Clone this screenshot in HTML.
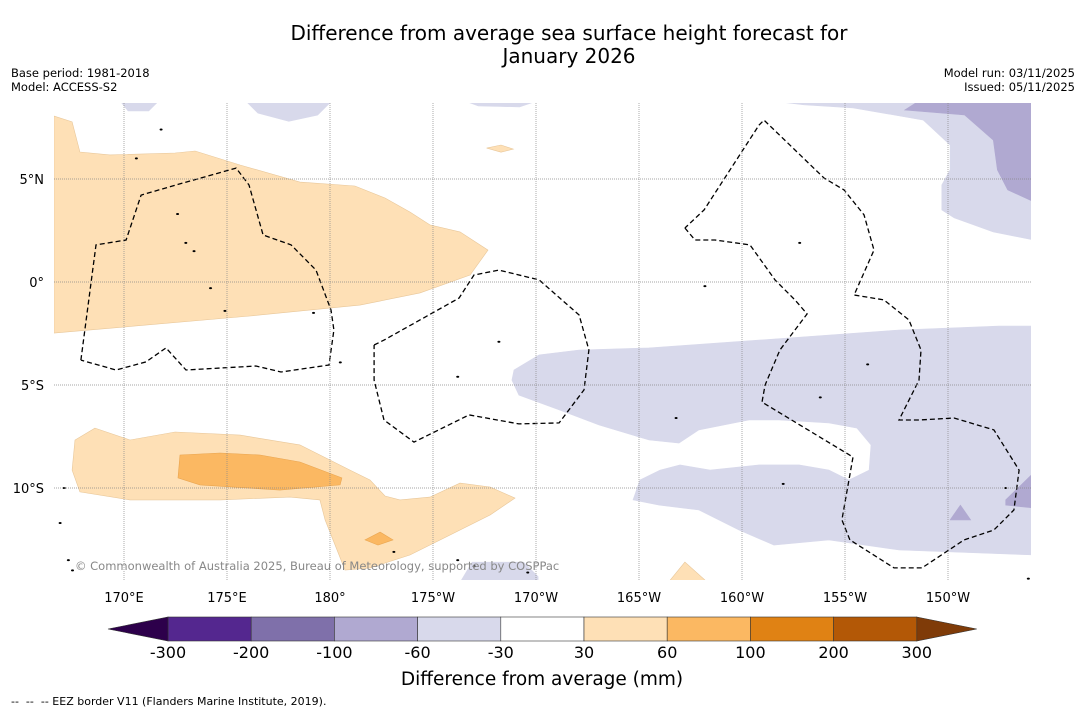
<!DOCTYPE html>
<html><head><meta charset="utf-8"><style>
body{margin:0;background:#fff;font-family:"Liberation Sans","DejaVu Sans",sans-serif}
#wrap{position:relative;width:1085px;height:713px;overflow:hidden}
.t{position:absolute;white-space:nowrap}
</style></head><body>
<div id="wrap">
<div class="t" style="left:0;width:1138px;text-align:center;top:22px;font-size:20px;line-height:23px;font-family:'DejaVu Sans',sans-serif">Difference from average sea surface height forecast for<br>January 2026</div>
<div class="t" style="left:11px;top:66px;font-size:11.5px;line-height:14px;font-family:'DejaVu Sans',sans-serif">Base period: 1981-2018<br>Model: ACCESS-S2</div>
<div class="t" style="right:10px;top:66px;font-size:11.5px;line-height:14px;text-align:right;font-family:'DejaVu Sans',sans-serif">Model run: 03/11/2025<br>Issued: 05/11/2025</div>
<svg id="map" width="1085" height="713" style="position:absolute;left:0;top:0"></svg>
<div class="t" style="left:11px;top:695px;font-size:11px;font-family:'DejaVu Sans',sans-serif">--&nbsp; --&nbsp; -- EEZ border V11 (Flanders Marine Institute, 2019).</div>
</div>
<script>
const lonTicks=[170,175,180,185,190,195,200,205,210];
const lonLabels=["170°E","175°E","180°","175°W","170°W","165°W","160°W","155°W","150°W"];
const latTicks=[5,0,-5,-10];
const latLabels=["5°N","0°","5°S","10°S"];
const cbLevels=["-300","-200","-100","-60","-30","30","60","100","200","300"];
const cbColors=["#54278f","#7f70aa","#b0a9d1","#d8d9eb","#ffffff","#fee0b6","#fbb862","#e08214","#b35806"];
const lightOrange=[
[[166.6,8.06],[167.48,7.77],[167.86,6.31],[169.32,6.17],[172.48,6.26],[173.45,6.36],[175.63,5.68],[178.54,4.85],[181.21,4.66],[182.67,4.08],[183.88,3.4],[184.85,2.77],[186.31,2.43],[187.67,1.55],[186.8,0.34],[184.37,-0.53],[181.46,-1.12],[176.12,-1.65],[166.6,-2.48]],
[[168.59,-7.09],[170.29,-7.67],[172.48,-7.28],[175.63,-7.43],[178.54,-7.91],[180.97,-9.13],[181.94,-9.61],[182.67,-10.39],[183.4,-10.58],[184.85,-10.44],[186.31,-9.76],[187.77,-9.95],[188.98,-10.49],[187.77,-11.31],[185.83,-12.28],[183.88,-13.25],[181.94,-13.88],[180.73,-13.98],[179.76,-11.55],[179.51,-10.58],[178.06,-10.44],[174.66,-10.58],[170.29,-10.58],[167.86,-10.19],[167.48,-9.13],[167.62,-7.67]],
[[187.6,6.5],[188.3,6.65],[188.9,6.45],[188.3,6.3]],
[[196.41,-14.6],[197.23,-13.59],[198.35,-14.6]]
];
const midOrange=[
[[172.72,-8.4],[174.66,-8.3],[176.6,-8.4],[178.54,-8.74],[180.58,-9.51],[180.49,-9.85],[177.57,-10.1],[173.69,-9.85],[172.62,-9.51]],
[[181.7,-12.52],[182.43,-12.14],[183.06,-12.52],[182.33,-12.77]]
];
const lightPurple=[
[[169.8,8.8],[171.7,8.8],[171.2,8.3],[170.2,8.3]],
[[175.9,8.8],[180.1,8.8],[179.4,8.1],[178.0,7.8],[176.5,8.2]],
[[186.5,8.8],[190.1,8.8],[189.2,8.5],[187.2,8.55]],
[[201.3,8.8],[214.2,8.8],[214.2,2.03],[212.2,2.43],[210.3,3.11],[209.7,3.5],[209.7,4.71],[210.1,5.44],[210.1,6.65],[208.8,7.86],[205.4,8.45],[203.0,8.6]],
[[188.93,-4.27],[190.15,-3.54],[192.09,-3.3],[195.49,-3.2],[200.83,-2.82],[207.62,-2.33],[212.48,-2.14],[214.2,-2.14],[214.2,-13.25],[207.62,-13.01],[204.22,-12.52],[201.55,-12.77],[199.85,-12.04],[197.91,-11.07],[195.97,-10.83],[194.71,-10.58],[195.05,-9.61],[196.02,-9.13],[196.99,-8.88],[198.45,-9.13],[200.83,-8.88],[202.77,-8.88],[204.22,-9.13],[205.19,-9.61],[206.17,-9.13],[206.26,-7.91],[205.58,-7.09],[204.22,-6.84],[201.8,-6.7],[200.34,-6.7],[197.91,-7.18],[196.94,-7.82],[195.49,-7.67],[193.06,-6.94],[191.12,-6.21],[189.17,-5.49],[188.83,-4.76]],
[[186.3,-14.6],[186.9,-13.6],[189.4,-13.6],[190.1,-14.3],[190.1,-14.6]]
];
const midPurple=[
[[208.6,8.8],[214.2,8.8],[214.2,3.88],[212.9,4.47],[212.4,5.44],[212.2,6.89],[210.8,8.11],[207.9,8.35]],
[[212.8,-10.58],[214.2,-9.22],[214.2,-10.97],[212.8,-10.83]],
[[210.1,-11.55],[210.6,-10.83],[211.1,-11.55]]
];
const eez=[
[[167.91,-3.79],[168.64,1.8],[170.1,2.04],[170.83,4.22],[172.52,4.71],[175.44,5.53],[176.07,4.71],[176.75,2.28],[178.11,1.8],[179.32,0.58],[180.05,-1.36],[180.19,-2.33],[179.95,-4.03],[177.62,-4.37],[176.41,-4.08],[173.01,-4.27],[172.04,-3.2],[171.07,-3.88],[169.61,-4.27],[167.91,-3.79]],
[[182.14,-3.06],[182.62,-2.82],[186.26,-0.78],[186.99,0.34],[188.2,0.58],[190.15,0.1],[192.09,-1.6],[192.57,-3.3],[192.33,-5.24],[191.12,-6.84],[189.17,-6.89],[186.75,-6.45],[184.08,-7.77],[182.62,-6.7],[182.14,-4.76],[182.14,-3.06]],
[[197.23,2.62],[197.72,2.04],[198.69,2.04],[200.39,1.8],[201.6,0.1],[202.57,-0.87],[203.16,-1.55],[201.84,-3.3],[201.12,-5.0],[200.97,-5.83],[205.39,-8.5],[204.85,-11.55],[205.24,-12.52],[207.38,-13.88],[208.74,-13.88],[210.78,-12.52],[212.23,-12.04],[213.2,-11.07],[213.45,-9.13],[212.23,-7.18],[210.29,-6.6],[208.59,-6.7],[207.62,-6.7],[208.59,-4.76],[208.69,-3.3],[208.1,-1.84],[206.89,-0.87],[205.44,-0.63],[206.41,1.55],[205.92,3.26],[204.95,4.47],[203.98,5.05],[201.07,7.86],[200.83,7.62],[198.16,3.5],[197.23,2.62]]
];
const islands=[[170.6,6.0],[171.8,7.4],[172.6,3.3],[173.0,1.9],[173.4,1.5],[174.2,-0.3],[174.9,-1.4],[179.2,-1.5],[180.5,-3.9],[188.2,-2.9],[186.2,-4.6],[198.2,-0.2],[202.8,1.9],[206.1,-4.0],[203.8,-5.6],[202.0,-9.8],[212.8,-10.0],[167.1,-10.0],[166.9,-11.7],[167.3,-13.5],[167.5,-14.0],[186.2,-13.5],[187.0,-13.8],[189.6,-14.1],[213.9,-14.4],[183.1,-13.1],[196.8,-6.6]];

const X=lon=>124+(lon-170)*20.6;
const Y=lat=>282-lat*20.6;
const svg=document.getElementById('map');
const NS='http://www.w3.org/2000/svg';
function mk(tag,attrs){const e=document.createElementNS(NS,tag);for(const k in attrs)e.setAttribute(k,attrs[k]);svg.appendChild(e);return e;}
const defs=document.createElementNS(NS,'defs');defs.innerHTML='<clipPath id="cp"><rect x="54" y="103" width="977" height="477"/></clipPath>';svg.appendChild(defs);
const g=document.createElementNS(NS,'g');g.setAttribute('clip-path','url(#cp)');svg.appendChild(g);


function poly(pts,fill,stroke,name){const p=document.createElementNS(NS,'polygon');p.setAttribute('points',pts.map(q=>X(q[0]).toFixed(1)+','+Y(q[1]).toFixed(1)).join(' '));p.setAttribute('fill',fill);p.setAttribute('stroke',stroke);p.setAttribute('stroke-width','0.6');


g.appendChild(p);}
lightOrange.forEach(s=>poly(s,'#fee0b6','#e8c79a','anomaly-30-60'));
midOrange.forEach(s=>poly(s,'#fbb862','#e9a550','anomaly-60-100'));
lightPurple.forEach(s=>poly(s,'#d8d9eb','#d8d9eb','anomaly-neg30-60'));
midPurple.forEach(s=>poly(s,'#b0a9d1','#b0a9d1','anomaly-neg60-100'));
islands.forEach(q=>{const e=document.createElementNS(NS,'ellipse');e.setAttribute('cx',X(q[0]));e.setAttribute('cy',Y(q[1]));e.setAttribute('rx',1.5);e.setAttribute('ry',1);e.setAttribute('fill','#000');


g.appendChild(e);});
eez.forEach(s=>{const p=document.createElementNS(NS,'polyline');p.setAttribute('points',s.map(q=>X(q[0]).toFixed(1)+','+Y(q[1]).toFixed(1)).join(' '));p.setAttribute('fill','none');p.setAttribute('stroke','#000');p.setAttribute('stroke-width','1.3');p.setAttribute('stroke-dasharray','5,3');


g.appendChild(p);});
lonTicks.forEach((lo,i)=>{const l=mk('line',{x1:X(lo),x2:X(lo),y1:103,y2:580,stroke:'#888','stroke-width':0.7,'stroke-dasharray':'1,1'});


const t=mk('text',{x:X(lo),y:602,'text-anchor':'middle','font-size':13,'font-family':'DejaVu Sans, sans-serif'});t.textContent=lonLabels[i];

});
latTicks.forEach((la,i)=>{const l=mk('line',{x1:54,x2:1031,y1:Y(la),y2:Y(la),stroke:'#888','stroke-width':0.7,'stroke-dasharray':'1,1'});


const t=mk('text',{x:44,y:Y(la)+5,'text-anchor':'end','font-size':13,'font-family':'DejaVu Sans, sans-serif'});t.textContent=latLabels[i];

});
const cr=mk('text',{x:75,y:570,'font-size':11.5,fill:'#888','font-family':'DejaVu Sans, sans-serif'});cr.textContent='© Commonwealth of Australia 2025, Bureau of Meteorology, supported by COSPPac';


const cx0=168,cw=83.2,cy=617,ch=24;
cbColors.forEach((c,i)=>{const r=mk('rect',{x:cx0+i*cw,y:cy,width:cw,height:ch,fill:c,stroke:'#333','stroke-width':0.6});

});
const lt=mk('polygon',{points:`108,${cy+ch/2} ${cx0},${cy} ${cx0},${cy+ch}`,fill:'#2d004b',stroke:'#333','stroke-width':0.6});


const xe=cx0+9*cw;
const rt=mk('polygon',{points:`${xe},${cy} ${xe+60},${cy+ch/2} ${xe},${cy+ch}`,fill:'#7f3b08',stroke:'#333','stroke-width':0.6});


cbLevels.forEach((s,i)=>{const t=mk('text',{x:cx0+i*cw,y:658,'text-anchor':'middle','font-size':16,'font-family':'DejaVu Sans, sans-serif'});t.textContent=s;

});
const cl=mk('text',{x:542,y:685,'text-anchor':'middle','font-size':18.5,'font-family':'DejaVu Sans, sans-serif'});cl.textContent='Difference from average (mm)';


</script>
</body></html>
